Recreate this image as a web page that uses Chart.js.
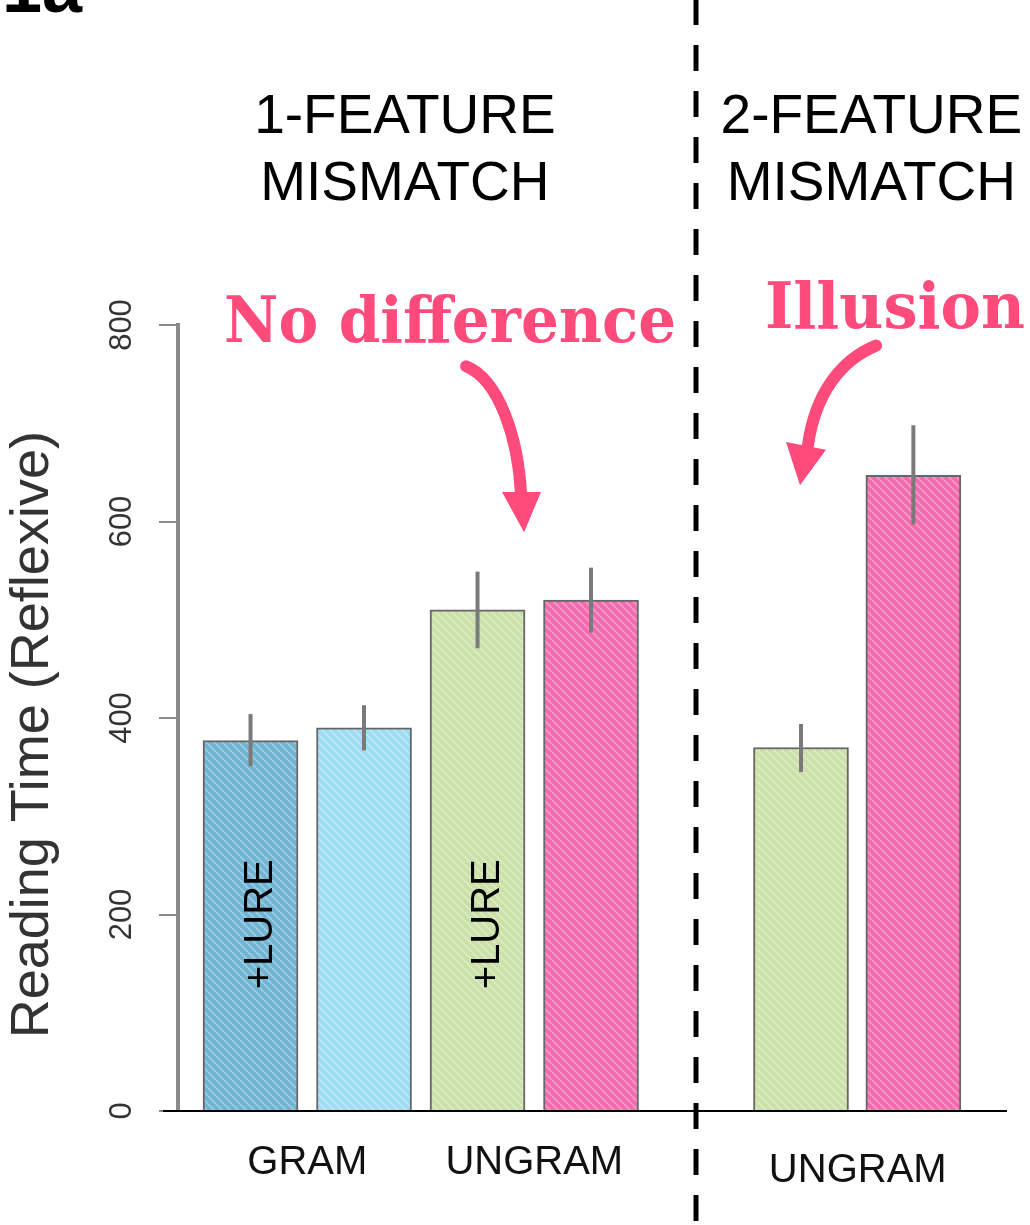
<!DOCTYPE html>
<html>
<head>
<meta charset="utf-8">
<script src="https://cdn.jsdelivr.net/npm/chart.js@4.4.1/dist/chart.umd.min.js"></script>
<style>
  html, body { margin: 0; padding: 0; background: #fff; }
  #wrap { width: 1030px; height: 1225px; position: relative; }
</style>
</head>
<body>
<div id="wrap"><canvas id="myChart"></canvas></div>
<script>
// bars, left to right
var conditions = ['GRAM +LURE', 'GRAM', 'UNGRAM +LURE', 'UNGRAM', 'UNGRAM (2F, +LURE)', 'UNGRAM (2F)'];
var slots = [1, 2, 3, 4, 5.85, 6.84];
var readingTime = [377, 390, 510, 520, 370, 647];
var errLow = [351, 367, 471, 487, 345, 597];
var errHigh = [404, 413, 549, 553, 394, 698];
var barColors = ['#6fb4d3', '#9ddcf2', '#cbe0a7', '#f06aae', '#cbe0a7', '#f06aae'];
var lureText = ['+LURE', '', '+LURE', '', '', ''];

// axis labels
var groupLabels = ['GRAM', 'UNGRAM', 'UNGRAM'];
var groupSlots = [1.5, 3.5, 6.35];
var yTicks = [0, 200, 400, 600, 800];

var FONT = '"Liberation Sans", Arial, Helvetica, sans-serif';
var PINK = '#ff4a7c';

function hatch(color) {
    var c = document.createElement('canvas');
    c.width = 8; c.height = 8;
    var g = c.getContext('2d');
    g.fillStyle = color;
    g.fillRect(0, 0, 8, 8);
    g.strokeStyle = 'rgba(255,255,255,0.3)';
    g.lineWidth = 2;
    g.beginPath();
    for (var k = -1; k <= 1; k++) {
        g.moveTo(k * 8, 0);
        g.lineTo(k * 8 + 8, 8);
    }
    g.stroke();
    return g.createPattern(c, 'repeat');
}

// text that has to fit a given width (fallback font for the rounded display face)
function fitText(ctx, text, cx, cy, width) {
    ctx.save();
    ctx.font = 'bold 64px "DejaVu Serif", "Liberation Serif", serif';
    var w = ctx.measureText(text).width;
    ctx.translate(cx, cy);
    ctx.scale(width / w, 1);
    ctx.textAlign = 'center';
    ctx.textBaseline = 'alphabetic';
    ctx.fillStyle = PINK;
    ctx.fillText(text, 0, 0);
    ctx.restore();
}

function arrow(ctx, X, Y, pts, head) {
    ctx.save();
    ctx.strokeStyle = PINK;
    ctx.fillStyle = PINK;
    ctx.lineWidth = 12;
    ctx.lineCap = 'round';
    ctx.beginPath();
    ctx.moveTo(X(pts[0][0]), Y(pts[0][1]));
    ctx.bezierCurveTo(X(pts[1][0]), Y(pts[1][1]), X(pts[2][0]), Y(pts[2][1]), X(pts[3][0]), Y(pts[3][1]));
    ctx.stroke();
    ctx.beginPath();
    ctx.moveTo(X(head[0][0]), Y(head[0][1]));
    ctx.lineTo(X(head[1][0]), Y(head[1][1]));
    ctx.lineTo(X(head[2][0]), Y(head[2][1]));
    ctx.closePath();
    ctx.fill();
    ctx.restore();
}

var decor = {
    id: 'decor',
    afterDatasetsDraw: function(chart) {
        var ctx = chart.ctx;
        var xs = chart.scales.x, ys = chart.scales.y;
        var area = chart.chartArea;
        var X = function(v) { return xs.getPixelForValue(v); };
        var Y = function(v) { return ys.getPixelForValue(v); };

        // error bars
        ctx.save();
        ctx.strokeStyle = '#7a7a7a';
        ctx.lineWidth = 4;
        for (var i = 0; i < slots.length; i++) {
            ctx.beginPath();
            ctx.moveTo(X(slots[i]), Y(errLow[i]));
            ctx.lineTo(X(slots[i]), Y(errHigh[i]));
            ctx.stroke();
        }
        ctx.restore();

        // +LURE labels inside bars
        ctx.save();
        ctx.font = '40px ' + FONT;
        ctx.fillStyle = '#000';
        ctx.textAlign = 'center';
        ctx.textBaseline = 'alphabetic';
        for (var j = 0; j < slots.length; j++) {
            if (!lureText[j]) continue;
            ctx.save();
            ctx.translate(X(slots[j]) + 21, Y(190));
            ctx.rotate(-Math.PI / 2);
            ctx.fillText(lureText[j], 0, 0);
            ctx.restore();
        }
        ctx.restore();

        // baseline
        ctx.save();
        ctx.strokeStyle = '#000';
        ctx.lineWidth = 2;
        ctx.beginPath();
        ctx.moveTo(area.left - 15, Y(0));
        ctx.lineTo(area.right, Y(0));
        ctx.stroke();
        ctx.restore();

        // group labels under the bars
        ctx.save();
        ctx.font = '40px ' + FONT;
        ctx.fillStyle = '#111';
        ctx.textAlign = 'center';
        ctx.textBaseline = 'alphabetic';
        groupLabels.forEach(function(lab, k) {
            var drop = k === 2 ? 71 : 63;
            ctx.fillText(lab, X(groupSlots[k]), Y(0) + drop);
        });
        ctx.restore();

        // rotated y tick labels
        ctx.save();
        ctx.font = '31px ' + FONT;
        ctx.fillStyle = '#333';
        ctx.textAlign = 'center';
        ctx.textBaseline = 'alphabetic';
        yTicks.forEach(function(t) {
            ctx.save();
            ctx.translate(area.left - 47, Y(t));
            ctx.rotate(-Math.PI / 2);
            ctx.fillText(String(t), 0, 0);
            ctx.restore();
        });
        // y title
        ctx.font = '54px ' + FONT;
        ctx.translate(area.left - 130, Y(383));
        ctx.rotate(-Math.PI / 2);
        ctx.fillText('Reading Time (Reflexive)', 0, 0);
        ctx.restore();

        // group headers
        ctx.save();
        ctx.font = '55px ' + FONT;
        ctx.fillStyle = '#000';
        ctx.textAlign = 'center';
        ctx.textBaseline = 'alphabetic';
        ctx.fillText('1-FEATURE', X(2.36), Y(995));
        ctx.fillText('MISMATCH', X(2.36), Y(927));
        ctx.fillText('2-FEATURE', X(6.47), Y(995));
        ctx.fillText('MISMATCH', X(6.47), Y(927));
        // panel letter, cut by the top edge
        ctx.font = 'bold 72px ' + FONT;
        ctx.textAlign = 'left';
        ctx.fillText('1a', 2, 12);
        ctx.restore();

        // dashed separator
        ctx.save();
        ctx.strokeStyle = '#000';
        ctx.lineWidth = 5;
        ctx.setLineDash([26, 20]);
        ctx.beginPath();
        ctx.moveTo(X(4.925), -1);
        ctx.lineTo(X(4.925), chart.height);
        ctx.stroke();
        ctx.restore();

        // annotations
        fitText(ctx, 'No difference', X(2.758), Y(783), 452);
        fitText(ctx, 'Illusion', X(6.678), Y(797), 260);
        arrow(ctx, X, Y,
            [[2.899, 758], [3.198, 744], [3.357, 683], [3.383, 629]],
            [[3.216, 630], [3.559, 630], [3.410, 589]]);
        arrow(ctx, X, Y,
            [[6.511, 779], [6.194, 764], [5.974, 729], [5.912, 678]],
            [[5.718, 681], [6.070, 673], [5.841, 637]]);
    }
};

var ctx = document.getElementById('myChart').getContext('2d');

var chart = new Chart(ctx, {
    type: 'bar',
    data: {
        labels: conditions,
        datasets: [{
            label: 'Reading Time',
            data: slots.map(function(s, i) { return {x: s, y: readingTime[i]}; }),
            backgroundColor: barColors.map(hatch),
            borderColor: '#666',
            borderWidth: 2,
            barThickness: 95,
        }]
    },
    options: {
        responsive: true,
        maintainAspectRatio: false,
        animation: false,
        layout: {
            padding: {left: 178, right: 23, top: 325, bottom: 114}
        },
        plugins: {
            legend: {display: false},
            tooltip: {enabled: false},
        },
        scales: {
            x: {
                type: 'linear',
                min: 0.361,
                max: 7.665,
                offset: false,
                grid: {display: false, drawTicks: false},
                border: {display: false},
                ticks: {display: false},
                afterFit: function(scale) { scale.height = 0; }
            },
            y: {
                min: 0,
                max: 800,
                afterFit: function(scale) { scale.width = 0; },
                ticks: {display: false, stepSize: 200},
                grid: {
                    drawOnChartArea: false,
                    drawTicks: true,
                    tickLength: 19,
                    color: '#8a8a8a',
                    lineWidth: 2
                },
                border: {color: '#8a8a8a', width: 4}
            }
        }
    },
    plugins: [decor]
});
</script>
</body>
</html>
